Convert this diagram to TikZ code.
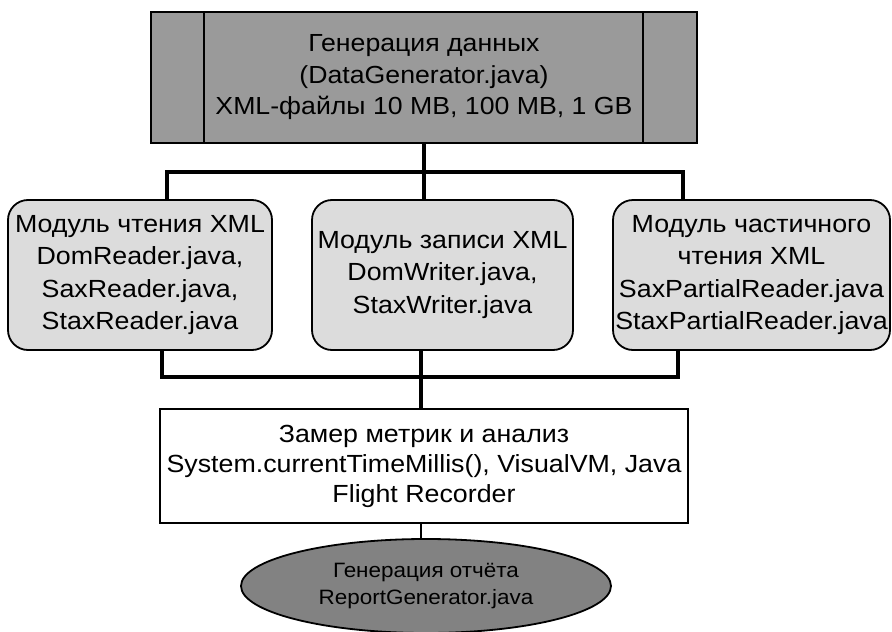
\documentclass[tikz,border=0pt]{standalone}
\usepackage{fontspec}
\setmainfont{Liberation Sans}[FakeStretch=1.08]
\usetikzlibrary{shapes.geometric}
\definecolor{topgray}{HTML}{9A9A9A}
\definecolor{modgray}{HTML}{DCDCDC}
\definecolor{ellgray}{HTML}{828282}
\tikzset{
  box/.style={draw=black, line width=1.8pt, align=center, inner sep=0pt, text=black},
  topbox/.style={box, fill=topgray, minimum width=546pt, minimum height=131pt,
     font=\fontsize{24.7}{31.5}\selectfont},
  modbox/.style={box, fill=modgray, rounded corners=20pt, minimum height=150pt,
     font=\fontsize{24.8}{32.5}\selectfont},
  metricbox/.style={box, fill=white, minimum width=528pt, minimum height=114pt,
     font=\fontsize{24.8}{30}\selectfont},
  reportell/.style={box, ellipse, fill=ellgray, minimum width=370pt, minimum height=94pt,
     font=\fontsize{20.8}{27}\selectfont},
  conn/.style={draw=black, line width=3.5pt},
  thinconn/.style={draw=black, line width=2.4pt}
}
\begin{document}
\begin{tikzpicture}[x=1pt, y=-1pt]
\useasboundingbox (0,0) rectangle (892,632);
% top
\node[topbox] (top) at (424,77.5) {Генерация данных\\(DataGenerator.java)\\XML-файлы 10 MB, 100 MB, 1 GB};
\draw[line width=1.8pt] ([xshift=54pt]top.north west) -- ([xshift=54pt]top.south west);
\draw[line width=1.8pt] ([xshift=-55pt]top.north east) -- ([xshift=-55pt]top.south east);
% modules
\node[modbox, minimum width=264pt] (m1) at (140,275) {Модуль чтения XML\\DomReader.java,\\SaxReader.java,\\StaxReader.java};
\node[modbox, minimum width=261pt] (m2) at (442.5,275) {Модуль записи XML\\DomWriter.java,\\StaxWriter.java};
\node[modbox, minimum width=277pt] (m3) at (751.5,275) {Модуль частичного\\чтения XML\\SaxPartialReader.java\\StaxPartialReader.java};
% metrics
\node[metricbox] (met) at (424,466) {Замер метрик и анализ\\System.currentTimeMillis(), VisualVM, Java\\Flight Recorder};
% report
\node[reportell] (rep) at (426,586) {Генерация отчёта\\ReportGenerator.java};
% top bus
\coordinate (tbL) at (167,172);
\coordinate (tbR) at (683,172);
\draw[conn] (top.south) -- (top.south |- m2.north);
\draw[conn] (tbL |- m1.north) -- (tbL) -- (tbR) -- (tbR |- m3.north);
% bottom bus
\coordinate (bbL) at (162,377);
\coordinate (bbM) at (421,377);
\coordinate (bbR) at (678,377);
\draw[conn] (bbL |- m1.south) -- (bbL) -- (bbR) -- (bbR |- m3.south);
\draw[conn] (bbM |- m2.south) -- (bbM |- met.north);
\draw[thinconn] (bbM |- met.south) -- (bbM |- rep.north);
\end{tikzpicture}
\end{document}
